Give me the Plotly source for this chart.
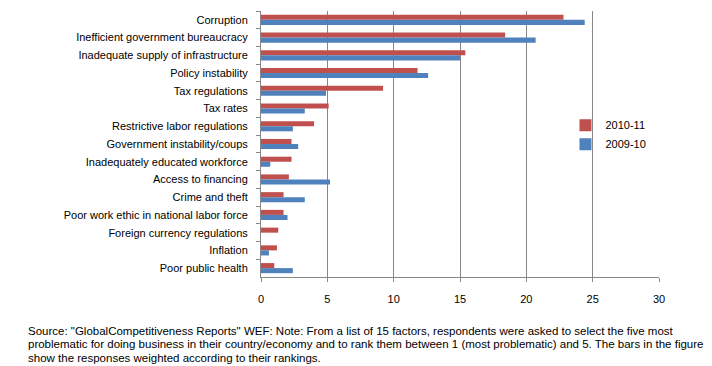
import plotly.graph_objects as go

categories = [
    "Corruption",
    "Inefficient government bureaucracy",
    "Inadequate supply of infrastructure",
    "Policy instability",
    "Tax regulations",
    "Tax rates",
    "Restrictive labor regulations",
    "Government instability/coups",
    "Inadequately educated workforce",
    "Access to financing",
    "Crime and theft",
    "Poor work ethic in national labor force",
    "Foreign currency regulations",
    "Inflation",
    "Poor public health",
]
values_2010_11 = [22.8, 18.4, 15.4, 11.8, 9.2, 5.1, 4.0, 2.3, 2.3, 2.1, 1.7, 1.7, 1.3, 1.2, 1.0]
values_2009_10 = [24.4, 20.7, 15.0, 12.6, 4.9, 3.3, 2.4, 2.8, 0.7, 5.2, 3.3, 2.0, 0.0, 0.6, 2.4]
x_ticks = [0, 5, 10, 15, 20, 25, 30]

source_lines = [
    'Source: "GlobalCompetitiveness Reports" WEF: Note: From a list of 15 factors, respondents were asked to select the five most',
    "problematic for doing business in their country/economy and to rank them between 1 (most problematic) and 5. The bars in the figure",
    "show the responses weighted according to their rankings.",
]
source_y = [-0.203, -0.253, -0.305]

fig = go.Figure()
fig.add_trace(go.Bar(
    y=categories, x=values_2010_11, orientation="h", name="2010-11",
    marker=dict(color="#C0504D", line=dict(width=0)),
))
fig.add_trace(go.Bar(
    y=categories, x=values_2009_10, orientation="h", name="2009-10",
    marker=dict(color="#4F81BD", line=dict(width=0)),
))

annotations = [
    dict(
        xref="paper", yref="paper", x=-0.59, y=yy,
        xanchor="left", yanchor="middle", align="left", showarrow=False,
        text=line, font=dict(size=11.5, color="black"),
    )
    for line, yy in zip(source_lines, source_y)
]

fig.update_layout(
    width=704, height=358,
    margin=dict(l=253, r=53, t=3, b=89),
    paper_bgcolor="white", plot_bgcolor="white",
    barmode="group", bargap=0.43, bargroupgap=0,
    font=dict(family="Liberation Sans, Arial, sans-serif", size=11, color="black"),
    showlegend=True,
    legend=dict(
        x=0.765, y=0.535, xanchor="left", yanchor="middle",
        bgcolor="rgba(0,0,0,0)", font=dict(size=11),
        itemwidth=30, tracegroupgap=0,
    ),
    xaxis=dict(
        range=[0, 30], tickvals=x_ticks, ticktext=[str(t) for t in x_ticks],
        showgrid=True, gridcolor="#878787", gridwidth=1,
        showline=True, linecolor="#878787", linewidth=1,
        ticks="outside", ticklen=4, tickcolor="#878787",
        zeroline=False, fixedrange=True, ticklabelstandoff=8,
    ),
    yaxis=dict(
        autorange="reversed", type="category",
        showline=True, linecolor="#878787", linewidth=1,
        ticks="outside", ticklen=4, tickcolor="#878787",
        tickson="boundaries", showgrid=False, ticklabelstandoff=10,
    ),
    annotations=annotations,
)

fig.write_html("out.html")
